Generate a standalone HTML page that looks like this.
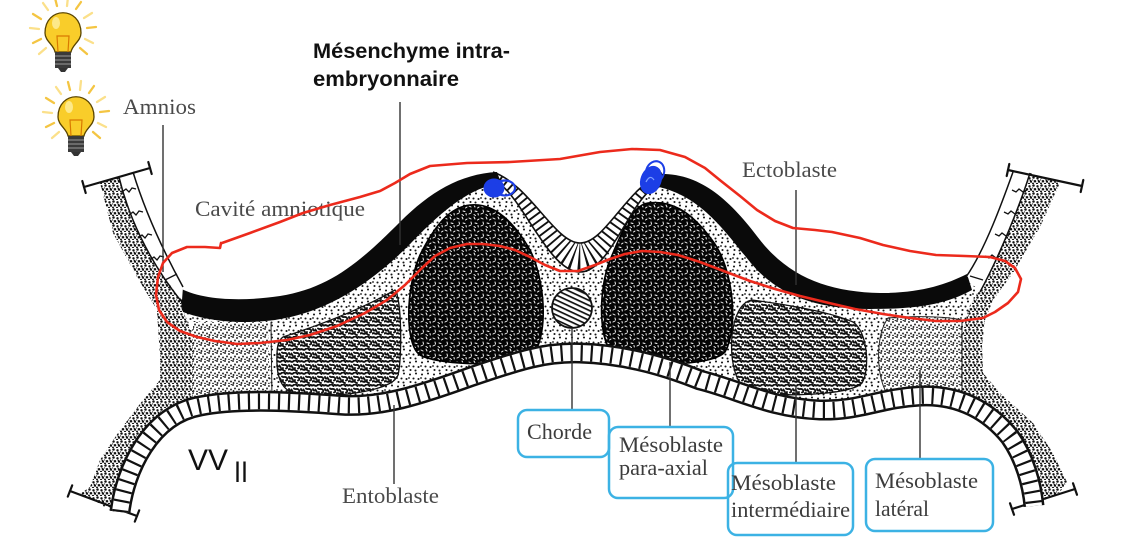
<!DOCTYPE html>
<html><head><meta charset="utf-8">
<style>
html,body{margin:0;padding:0;background:#fff;}
svg{display:block;}
.serif{font-family:"Liberation Serif",serif;fill:#4a4a4a;font-size:22px;}
.lbl{font-family:"Liberation Serif",serif;fill:#3c3c3c;font-size:22px;}
.box{fill:none;stroke:#3cb2e4;stroke-width:2.5;}
.ln{stroke:#333;stroke-width:1.4;fill:none;}
</style></head><body>
<svg width="1122" height="556" viewBox="0 0 1122 556" xmlns="http://www.w3.org/2000/svg">
<defs>
 <pattern id="mes" width="12" height="12" patternUnits="userSpaceOnUse">
  <rect width="12" height="12" fill="#fff"/>
  <g fill="#151515">
   <circle cx="2" cy="2.5" r="1.05"/><circle cx="8" cy="1.5" r="1.05"/><circle cx="5.5" cy="6.5" r="1.05"/>
   <circle cx="10.5" cy="7" r="1.05"/><circle cx="2.5" cy="10" r="1.05"/><circle cx="7.5" cy="10.5" r="1.05"/>
   <circle cx="1" cy="6" r="0.9"/>
  </g>
 </pattern>
 <pattern id="som" width="12" height="12" patternUnits="userSpaceOnUse">
  <rect width="12" height="12" fill="#050505"/>
  <g stroke="#fff" stroke-width="0.95" fill="none" stroke-linecap="round">
   <path d="M1 2l2 1"/><path d="M6 1l1 2"/><path d="M9.5 4l1.5 -1"/><path d="M3 6l0.5 2"/>
   <path d="M7 7l2 0.5"/><path d="M1 10l2 -1"/><path d="M6 10.5l1.5 1"/><path d="M10 9.5l0.3 1.5"/>
  </g>
 </pattern>
 <pattern id="int" width="12" height="12" patternUnits="userSpaceOnUse">
  <rect width="12" height="12" fill="#fff"/>
  <g stroke="#111" stroke-width="1.9" fill="none" stroke-linecap="round">
   <path d="M0.5 1.5 C2 0,3.5 3,5 1.5 S8 0,9.5 2"/>
   <path d="M1 5 C1 7,3 7,3.5 5.5"/>
   <path d="M6 4.5 C7.5 6,9 4,10.5 5.5 S11.5 8,10 8.5"/>
   <path d="M0.5 9.5 C2 8,3.5 11,5.5 9.5"/>
   <path d="M7 8 C6 9.5,7.5 11,9 11"/>
   <path d="M4 6.5 L5 8"/><path d="M10.5 0.5 L11.5 1.5"/>
  </g>
 </pattern>
 <pattern id="lat" width="8" height="8" patternUnits="userSpaceOnUse">
  <rect width="8" height="8" fill="#fff"/>
  <g fill="#222">
   <circle cx="1" cy="1" r="0.95"/><circle cx="5" cy="2" r="0.95"/><circle cx="3" cy="4.5" r="0.95"/>
   <circle cx="7" cy="5.5" r="0.95"/><circle cx="1.5" cy="7" r="0.95"/><circle cx="5" cy="7.5" r="0.85"/>
   <circle cx="7.3" cy="0.5" r="0.7"/>
  </g>
 </pattern>
 <pattern id="dark" width="8" height="8" patternUnits="userSpaceOnUse">
  <rect width="8" height="8" fill="#fff"/>
  <g fill="#111">
   <circle cx="1.5" cy="1.5" r="1.25"/><circle cx="5.5" cy="2.3" r="1.2"/><circle cx="3" cy="5.2" r="1.25"/>
   <circle cx="7" cy="5.6" r="1.2"/><circle cx="1" cy="7.5" r="1"/><circle cx="5" cy="7.8" r="1.1"/>
  </g>
  <path d="M5.5 4 l1.5 0.5 M0.3 3.5 l0.8 1" stroke="#111" stroke-width="1"/>
 </pattern>
 <pattern id="hatch" width="4.5" height="4.5" patternUnits="userSpaceOnUse" patternTransform="rotate(25)">
  <rect width="4.5" height="4.5" fill="#fff"/>
  <rect width="4.5" height="1.7" fill="#111"/>
 </pattern>
 <clipPath id="npclip"><path d="M 493 172 C 530 185, 555 243, 580 243 C 605 243, 625 190, 662 173 L 655 187 C 630 200, 610 272, 580 272 C 550 272, 525 203, 500 184 Z"/></clipPath>
 <path id="lad" d="M 120 512 C 125 470, 150 415, 200 406 C 240 398, 300 402, 340 405 C 380 408, 420 395, 470 377 C 520 360, 545 352, 580 353 C 620 354, 660 364, 700 380 C 740 390, 770 408, 820 410 C 860 411, 880 398, 920 396 C 960 394, 990 412, 1010 437 C 1025 458, 1032 485, 1034 506"/>
 <g id="bulb">
  <g stroke-linecap="round" stroke-width="2.3">
   <line x1="-22" y1="-12" x2="-30" y2="-17" stroke="#f4c542"/>
   <line x1="-24" y1="-2" x2="-33" y2="-3" stroke="#fbe08a"/>
   <line x1="-22" y1="8" x2="-30" y2="12" stroke="#f4c542"/>
   <line x1="-17" y1="17" x2="-24" y2="23" stroke="#fbe08a"/>
   <line x1="-15" y1="-21" x2="-20" y2="-28" stroke="#fbe08a"/>
   <line x1="-6" y1="-25" x2="-8" y2="-33" stroke="#f4c542"/>
   <line x1="4" y1="-25" x2="5" y2="-34" stroke="#fbe08a"/>
   <line x1="13" y1="-22" x2="18" y2="-29" stroke="#f4c542"/>
   <line x1="21" y1="-13" x2="29" y2="-18" stroke="#fbe08a"/>
   <line x1="24" y1="-3" x2="33" y2="-4" stroke="#f4c542"/>
   <line x1="22" y1="8" x2="30" y2="12" stroke="#fbe08a"/>
   <line x1="17" y1="17" x2="24" y2="23" stroke="#f4c542"/>
  </g>
  <path d="M -18 2 C -18 -25, 18 -25, 18 2 C 18 10, 9 14, 8 21 L -8 21 C -9 14, -18 10, -18 2 Z" fill="#f9cd2a" stroke="#5a4500" stroke-width="1.3"/>
  <ellipse cx="-7" cy="-8" rx="4" ry="6" fill="#fde98a"/>
  <path d="M -5 21 L -6 5 L 6 5 L 5 21" fill="none" stroke="#d97a00" stroke-width="1.2"/>
  <rect x="-8" y="21" width="16" height="16" fill="#3a3a3a"/>
  <path d="M -8 25 H 8 M -8 29 H 8 M -8 33 H 8" stroke="#999" stroke-width="1"/>
  <path d="M -5 37 L 5 37 L 2 41 L -2 41 Z" fill="#333"/>
 </g>
</defs>

<rect width="1122" height="556" fill="#fff"/>

<!-- bulbs -->
<use href="#bulb" transform="translate(63,31)"/>
<use href="#bulb" transform="translate(76,115)"/>

<!-- body mesenchyme fill -->
<path fill="url(#mes)" d="M 180 298 L 220 310 L 280 308 L 330 295 L 370 265 L 405 235 L 440 205 L 470 185 L 497 178 L 530 205 L 555 245 L 580 258 L 605 245 L 630 205 L 660 180 L 700 185 L 730 215 L 760 255 L 790 282 L 830 298 L 880 301 L 930 298 L 968 282 L 980 290 L 993 300 L 985 320 L 982 345 L 983 373 L 1000 393 L 1033 423 L 1053 453 L 1067 482 L 1036 506 L 1028 470 L 1010 440 L 990 415 L 960 396 L 920 396 L 880 400 L 820 410 L 770 405 L 740 392 L 700 380 L 660 364 L 620 354 L 580 353 L 545 354 L 520 360 L 470 377 L 420 395 L 380 406 L 340 405 L 300 402 L 240 398 L 200 406 L 150 420 L 125 470 L 118 514 L 80 494 L 90 487 L 100 460 L 120 430 L 143 400 L 160 380 L 160 357 L 157 310 Z"/>

<!-- dark outer stipple -->
<path fill="url(#dark)" d="M 100 183 L 113 233 L 137 277 L 157 310 L 160 357 L 160 380 L 143 400 L 120 430 L 100 460 L 90 487 L 80 494 L 120 512 L 124 485 L 135 455 L 152 432 L 175 415 L 193 407 L 193 380 L 193 340 L 186 318 L 180 300 L 163 273 L 140 233 L 120 177 Z"/>
<path fill="url(#dark)" d="M 1030 173 L 1060 183 L 1040 227 L 1013 273 L 993 300 L 985 320 L 982 345 L 983 373 L 1000 393 L 1033 423 L 1053 453 L 1067 482 L 1060 492 L 1034 506 L 1030 475 L 1015 448 L 995 425 L 968 404 L 962 395 L 962 360 L 963 330 L 970 305 L 980 290 L 993 263 L 1013 220 Z"/>

<!-- lateral plates -->
<path fill="url(#lat)" d="M 193 322 L 268 322 L 270 397 L 193 404 Z"/>
<line x1="271" y1="322" x2="272" y2="400" stroke="#222" stroke-width="1"/>
<path fill="url(#lat)" stroke="#222" stroke-width="1" d="M 888 318 C 910 316, 945 316, 962 320 L 962 392 C 940 396, 900 396, 885 390 C 876 370, 876 335, 888 318 Z"/>

<!-- intermediate -->
<path fill="url(#int)" stroke="#111" stroke-width="1.3" d="M 283 337 C 320 325, 360 310, 395 290 C 402 300, 402 360, 398 375 C 393 392, 330 398, 300 395 C 280 392, 276 375, 277 355 C 277 345, 279 340, 283 337 Z"/>
<path fill="url(#int)" stroke="#111" stroke-width="1.3" d="M 752 300 C 790 305, 830 312, 853 322 C 868 332, 870 370, 862 383 C 850 396, 775 397, 752 392 C 735 388, 730 360, 732 335 C 734 318, 740 302, 752 300 Z"/>

<!-- somites -->
<path fill="url(#som)" stroke="#000" stroke-width="1.6" d="M 470 205 C 490 203, 510 215, 530 250 C 545 280, 548 330, 535 352 C 520 368, 440 366, 420 355 C 405 345, 405 290, 420 255 C 435 225, 450 207, 470 205 Z"/>
<path fill="url(#som)" stroke="#000" stroke-width="1.6" d="M 648 203 C 670 200, 690 210, 712 240 C 735 270, 738 330, 725 352 C 710 368, 635 366, 615 355 C 598 345, 598 290, 610 260 C 622 232, 632 205, 648 203 Z"/>

<!-- notochord -->
<circle cx="572" cy="308" r="20" fill="url(#hatch)" stroke="#111" stroke-width="1.8"/>

<!-- neural plate -->
<path fill="#fff" d="M 493 172 C 530 185, 555 243, 580 243 C 605 243, 625 190, 662 173 L 655 187 C 630 200, 610 272, 580 272 C 550 272, 525 203, 500 184 Z"/>
<g clip-path="url(#npclip)">
 <path d="M 494 176 C 530 192, 552 258, 580 258 C 608 258, 630 192, 661 178" fill="none" stroke="#111" stroke-width="36" stroke-dasharray="1.9 4.4"/>
</g>
<path fill="none" stroke="#111" stroke-width="1.6" d="M 493 172 C 530 185, 555 243, 580 243 C 605 243, 625 190, 662 173 M 655 187 C 630 200, 610 272, 580 272 C 550 272, 525 203, 500 184"/>

<!-- ectoderm black bands -->
<path fill="#0a0a0a" d="M 178 287 C 200 300, 240 302, 280 296 C 330 288, 360 262, 400 222 C 430 192, 460 174, 497 172 L 501 183 C 470 188, 445 208, 412 242 C 375 280, 330 312, 275 320 C 235 325, 205 320, 183 312 Z"/>
<path fill="#0a0a0a" d="M 657 174 C 700 172, 730 200, 760 240 C 790 278, 830 292, 880 293 C 920 293, 945 285, 967 274 L 972 290 C 945 305, 915 309, 870 309 C 820 309, 785 298, 757 270 C 730 240, 705 195, 654 186 Z"/>

<!-- amnios cells -->
<path fill="#fff" d="M 133 172 C 143 205, 160 245, 183 287 L 182 300 C 148 260, 128 215, 119 177 Z"/>
<path fill="#fff" d="M 1013 172 C 1003 200, 985 250, 967 276 L 980 292 C 1000 255, 1020 205, 1030 173 Z"/>
<g fill="none" stroke="#111" stroke-width="1.5">
 <path d="M 133 172 C 143 205, 160 245, 183 287"/>
 <path d="M 119 177 C 128 215, 148 260, 181 301"/>
 <path d="M 1013 172 C 1003 200, 985 250, 966 277"/>
 <path d="M 1030 173 C 1020 205, 1000 255, 980 292"/>
</g>
<g fill="none" stroke="#111" stroke-width="1.3">
 <path d="M 122 192 l4 -3 l3 3 l3 -4 l4 1"/>
 <path d="M 129 215 l4 -3 l3 3 l3 -4 l4 1"/>
 <path d="M 138 238 l4 -3 l3 3 l3 -4 l4 1"/>
 <path d="M 150 260 l4 -3 l3 3 l3 -4 l4 1"/>
 <path d="M 165 280 l12 -6"/>
 <path d="M 1012 190 l4 2 l3 -3 l4 3 l4 -2"/>
 <path d="M 1004 212 l4 2 l3 -3 l4 3 l4 -2"/>
 <path d="M 995 234 l4 2 l3 -3 l4 3 l4 -2"/>
 <path d="M 985 256 l4 2 l3 -3 l4 3 l4 -2"/>
 <path d="M 970 276 l13 4"/>
</g>
<!-- cut bars -->
<g stroke="#111" stroke-width="2.2" stroke-linecap="round">
 <line x1="84" y1="187" x2="150" y2="168"/>
 <line x1="82.3" y1="181" x2="85.7" y2="193"/>
 <line x1="148.3" y1="162" x2="151.7" y2="174"/>
 <line x1="1008" y1="170" x2="1082" y2="186"/>
 <line x1="1009.3" y1="164" x2="1006.7" y2="176"/>
 <line x1="1083.3" y1="180" x2="1080.7" y2="192"/>
 <line x1="70" y1="491" x2="137" y2="516"/>
 <line x1="72.2" y1="485.4" x2="67.8" y2="496.6"/>
 <line x1="139.2" y1="510.4" x2="134.8" y2="521.6"/>
 <line x1="1012" y1="509" x2="1075" y2="489"/>
 <line x1="1010" y1="503.3" x2="1014" y2="514.7"/>
 <line x1="1073" y1="483.3" x2="1077" y2="494.7"/>
</g>

<!-- entoblast ladder -->
<use href="#lad" fill="none" stroke="#111" stroke-width="21"/>
<use href="#lad" fill="none" stroke="#fff" stroke-width="16"/>
<use href="#lad" fill="none" stroke="#111" stroke-width="16" stroke-dasharray="2.2 7.8"/>

<!-- leader lines -->
<line class="ln" x1="163" y1="125" x2="163" y2="272"/>
<line class="ln" x1="400" y1="102" x2="400" y2="245"/>
<line class="ln" x1="796" y1="190" x2="796" y2="285"/>
<line class="ln" x1="394" y1="405" x2="394" y2="484"/>
<line class="ln" x1="572" y1="328" x2="572" y2="410"/>
<line class="ln" x1="670" y1="362" x2="670" y2="427"/>
<line class="ln" x1="796" y1="385" x2="796" y2="463"/>
<line class="ln" x1="920" y1="370" x2="920" y2="459"/>

<!-- labels -->
<text class="serif" x="123" y="114" textLength="73" lengthAdjust="spacingAndGlyphs">Amnios</text>
<text x="313" y="58" font-family="Liberation Sans, sans-serif" font-weight="bold" font-size="21" fill="#111" textLength="197" lengthAdjust="spacingAndGlyphs">Mésenchyme intra-</text>
<text x="313" y="86" font-family="Liberation Sans, sans-serif" font-weight="bold" font-size="21" fill="#111" textLength="146" lengthAdjust="spacingAndGlyphs">embryonnaire</text>
<text class="serif" x="195" y="216" textLength="170" lengthAdjust="spacingAndGlyphs">Cavité amniotique</text>
<text class="serif" x="742" y="177" textLength="95" lengthAdjust="spacingAndGlyphs">Ectoblaste</text>
<text class="serif" x="342" y="503" textLength="97" lengthAdjust="spacingAndGlyphs">Entoblaste</text>
<text x="188" y="470" font-family="Liberation Sans, sans-serif" font-size="30" fill="#111" textLength="40" lengthAdjust="spacingAndGlyphs">VV</text>
<text x="234" y="482" font-family="Liberation Sans, sans-serif" font-size="30" fill="#111" textLength="14" lengthAdjust="spacingAndGlyphs">II</text>

<!-- boxes -->
<rect class="box" x="518" y="410" width="91" height="47" rx="9"/>
<rect class="box" x="609" y="427" width="124" height="71" rx="9"/>
<rect class="box" x="728" y="463" width="125" height="72" rx="9"/>
<rect class="box" x="866" y="459" width="127" height="72" rx="9"/>
<text class="lbl" x="527" y="439" textLength="65" lengthAdjust="spacingAndGlyphs">Chorde</text>
<text class="lbl" x="619" y="452" textLength="104" lengthAdjust="spacingAndGlyphs">Mésoblaste</text>
<text class="lbl" x="619" y="475" textLength="89" lengthAdjust="spacingAndGlyphs">para-axial</text>
<text class="lbl" x="731" y="490" textLength="105" lengthAdjust="spacingAndGlyphs">Mésoblaste</text>
<text class="lbl" x="731" y="517" textLength="119" lengthAdjust="spacingAndGlyphs">intermédiaire</text>
<text class="lbl" x="875" y="488" textLength="103" lengthAdjust="spacingAndGlyphs">Mésoblaste</text>
<text class="lbl" x="875" y="516" textLength="54" lengthAdjust="spacingAndGlyphs">latéral</text>

<!-- red annotation loop -->
<polyline fill="none" stroke="#ec2a1c" stroke-width="2.6" stroke-linejoin="round" stroke-linecap="round" points="222,243 250,233 280,222 303,213 330,205 360,197 380,191 395,183 410,174 430,166 467,163 510,162 560,159 600,152 632,149 660,150 685,157 705,168 721,181 740,196 757,210 775,221 793,228 815,230 832,232 860,238 883,245 910,251 936,255 965,256 990,257 1005,261 1015,268 1021,279 1018,292 1008,303 995,312 983,318 960,321 936,321 910,318 883,314 855,309 829,303 800,296 775,289 750,281 721,270 700,262 678,255 660,252 642,251 625,254 610,259 595,265 578,271 560,271 545,265 530,257 515,250 500,246 483,244 467,244 450,248 435,256 422,268 405,285 387,300 365,313 337,326 310,335 287,340 260,343 237,344 215,341 197,337 180,331 167,322 159,310 156,295 158,277 163,263 172,253 187,247 205,247 220,248 221,243"/>

<!-- blue scribbles -->
<g fill="#1c3ee6" stroke="#1c3ee6">
 <ellipse cx="494" cy="188" rx="10" ry="9"/>
 <ellipse cx="505" cy="188" rx="10" ry="7.5" fill="none" stroke-width="2.2"/>
 <ellipse cx="651" cy="180" rx="10" ry="14" transform="rotate(20 651 180)"/>
 <ellipse cx="655" cy="172" rx="9" ry="11" fill="none" stroke-width="2" transform="rotate(20 655 172)"/>
</g>
<path d="M 646 182 q4 -8 8 -2" fill="none" stroke="#7fa0ff" stroke-width="1.2"/>
</svg>
</body></html>
